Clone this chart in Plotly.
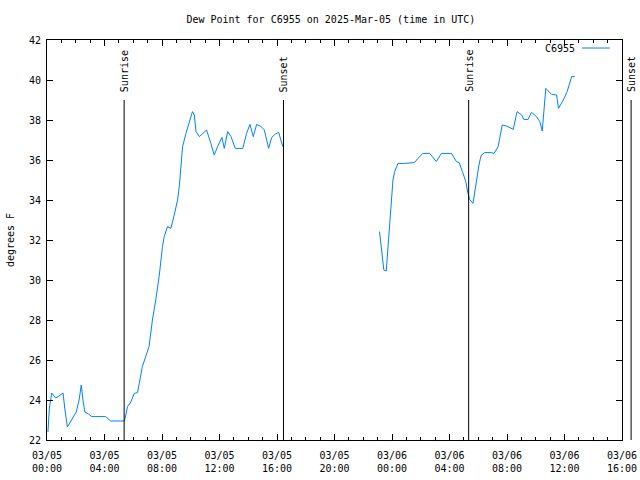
import plotly.graph_objects as go
import pandas as pd

times = [
    "2025-03-05 00:04", "2025-03-05 00:10", "2025-03-05 00:20", "2025-03-05 00:25", "2025-03-05 00:36",
    "2025-03-05 00:50", "2025-03-05 01:07", "2025-03-05 01:15", "2025-03-05 01:25", "2025-03-05 01:40",
    "2025-03-05 02:02", "2025-03-05 02:14", "2025-03-05 02:23", "2025-03-05 02:31", "2025-03-05 02:38",
    "2025-03-05 02:53", "2025-03-05 03:07", "2025-03-05 04:05", "2025-03-05 04:26", "2025-03-05 05:22",
    "2025-03-05 05:26", "2025-03-05 05:36", "2025-03-05 05:50", "2025-03-05 06:04", "2025-03-05 06:18",
    "2025-03-05 06:25", "2025-03-05 06:38", "2025-03-05 07:06", "2025-03-05 07:20", "2025-03-05 07:34",
    "2025-03-05 07:48", "2025-03-05 08:02", "2025-03-05 08:09", "2025-03-05 08:23", "2025-03-05 08:37",
    "2025-03-05 08:51", "2025-03-05 09:05", "2025-03-05 09:12", "2025-03-05 09:19", "2025-03-05 09:26",
    "2025-03-05 09:40", "2025-03-05 09:54", "2025-03-05 10:07", "2025-03-05 10:15", "2025-03-05 10:22",
    "2025-03-05 10:36", "2025-03-05 10:49", "2025-03-05 11:06", "2025-03-05 11:24", "2025-03-05 11:38",
    "2025-03-05 11:52", "2025-03-05 12:10", "2025-03-05 12:20", "2025-03-05 12:34", "2025-03-05 12:48",
    "2025-03-05 13:06", "2025-03-05 13:37", "2025-03-05 13:53", "2025-03-05 14:07", "2025-03-05 14:21",
    "2025-03-05 14:35", "2025-03-05 14:54", "2025-03-05 15:07", "2025-03-05 15:25", "2025-03-05 15:38",
    "2025-03-05 15:53", "2025-03-05 16:07", "2025-03-05 16:17", "2025-03-05 16:24",
    "2025-03-05 20:00",
    "2025-03-05 23:08", "2025-03-05 23:19", "2025-03-05 23:26", "2025-03-05 23:36", "2025-03-05 23:47",
    "2025-03-05 23:57", "2025-03-06 00:04", "2025-03-06 00:11", "2025-03-06 00:25", "2025-03-06 00:53",
    "2025-03-06 01:34", "2025-03-06 01:48", "2025-03-06 02:09", "2025-03-06 02:37", "2025-03-06 03:05",
    "2025-03-06 03:26", "2025-03-06 04:08", "2025-03-06 04:29", "2025-03-06 04:40", "2025-03-06 04:54",
    "2025-03-06 05:08", "2025-03-06 05:17", "2025-03-06 05:24", "2025-03-06 05:38", "2025-03-06 05:50",
    "2025-03-06 05:59", "2025-03-06 06:03", "2025-03-06 06:09", "2025-03-06 06:13", "2025-03-06 06:27",
    "2025-03-06 06:55", "2025-03-06 07:06", "2025-03-06 07:23", "2025-03-06 07:40", "2025-03-06 07:58",
    "2025-03-06 08:26", "2025-03-06 08:42", "2025-03-06 09:01", "2025-03-06 09:10", "2025-03-06 09:28",
    "2025-03-06 09:42", "2025-03-06 10:03", "2025-03-06 10:17", "2025-03-06 10:27", "2025-03-06 10:34",
    "2025-03-06 10:42", "2025-03-06 11:06", "2025-03-06 11:27", "2025-03-06 11:35", "2025-03-06 11:55",
    "2025-03-06 12:11", "2025-03-06 12:30", "2025-03-06 12:43",
]
dewpoint = [
    22.4, 23.6, 24.35, 24.25, 24.1,
    24.2, 24.35, 23.5, 22.65, 22.95,
    23.4, 24.0, 24.75, 23.9, 23.4,
    23.3, 23.17, 23.17, 22.95, 22.95,
    23.08, 23.67, 23.9, 24.33, 24.37,
    24.83, 25.67, 26.67, 28.0, 29.0,
    30.17, 31.67, 32.17, 32.67, 32.58,
    33.25, 34.0, 34.67, 35.67, 36.67,
    37.33, 37.92, 38.42, 38.25, 37.42,
    37.17, 37.33, 37.5, 36.83, 36.25,
    36.67, 37.13, 36.58, 37.42, 37.17,
    36.58, 36.58, 37.33, 37.78, 37.17,
    37.78, 37.67, 37.5, 36.58, 37.13,
    37.3, 37.38, 37.0, 36.67,
    None,
    32.42, 31.25, 30.5, 30.45, 32.17,
    33.67, 35.0, 35.42, 35.83, 35.83,
    35.87, 36.08, 36.33, 36.33, 35.92,
    36.33, 36.33, 35.92, 35.87, 35.42,
    34.92, 34.33, 34.03, 33.83, 34.83,
    35.33, 35.75, 36.08, 36.25, 36.37,
    36.37, 36.33, 36.67, 37.75, 37.7,
    37.53, 38.42, 38.25, 38.03, 38.03,
    38.38, 38.17, 37.92, 37.45, 38.58,
    39.58, 39.28, 39.25, 38.58, 39.0,
    39.42, 40.17, 40.17,
]

sun_events = ["Sunrise", "Sunset", "Sunrise", "Sunset"]
sun_times = ["2025-03-05 05:22", "2025-03-05 16:27", "2025-03-06 05:20", "2025-03-06 16:38"]

x_start = "2025-03-05 00:00"
x_end = "2025-03-06 16:00"
y_min, y_max = 22, 42
sun_line_top = 39

tick_vals = pd.date_range(x_start, x_end, freq="4h")
tick_text = [t.strftime("%m/%d<br>%H:%M") for t in tick_vals]

FONT = "DejaVu Sans Mono, Liberation Mono, monospace"
FS = 10
color = "#0080ff"

fig = go.Figure()
fig.add_trace(go.Scatter(
    x=pd.to_datetime(times), y=dewpoint, mode="lines",
    line=dict(color=color, width=1), connectgaps=False, showlegend=False,
    name="C6955",
))

t0 = pd.Timestamp(x_start)
t1 = pd.Timestamp(x_end)
span = (t1 - t0).total_seconds()
ytop_frac = (sun_line_top - y_min) / (y_max - y_min)
for name, ts in zip(sun_events, sun_times):
    frac = (pd.Timestamp(ts) - t0).total_seconds() / span
    fig.add_shape(type="line", xref="x domain", yref="y domain",
                  x0=frac, x1=frac, y0=0, y1=ytop_frac,
                  line=dict(color="black", width=1))
    fig.add_annotation(xref="x domain", yref="y domain", x=frac, y=ytop_frac,
                       text=name, textangle=-90, showarrow=False,
                       xanchor="center", yanchor="bottom", yshift=6,
                       font=dict(family=FONT, size=FS, color="black"))

# legend (text left of line sample, like the original)
fig.add_annotation(xref="paper", yref="paper", x=0.922, y=0.98, text="C6955",
                   showarrow=False, xanchor="right", yanchor="middle",
                   font=dict(family=FONT, size=FS, color="black"))
fig.add_shape(type="line", xref="paper", yref="paper", x0=0.93, x1=0.979,
              y0=0.98, y1=0.98, line=dict(color=color, width=1))

axis_common = dict(showline=True, linecolor="black", linewidth=1, mirror="ticks",
                   ticks="inside", ticklen=6, tickcolor="black", showgrid=False,
                   zeroline=False, automargin=False,
                   tickfont=dict(family=FONT, size=FS, color="black"))

fig.update_xaxes(range=[t0, t1], tickmode="array", tickvals=tick_vals, ticktext=tick_text,
                 ticklabelstandoff=6,
                 minor=dict(ticks="inside", ticklen=3, dtick=3600000, tickcolor="black",
                            showgrid=False),
                 **axis_common)
fig.update_yaxes(range=[y_min, y_max], dtick=2, ticklabelstandoff=3,
                 title=dict(text="degrees F", font=dict(family=FONT, size=FS, color="black"),
                            standoff=12),
                 **axis_common)

fig.update_layout(
    width=640, height=480,
    margin=dict(l=47, r=18, t=40, b=40),
    paper_bgcolor="white", plot_bgcolor="white",
    title=dict(text="Dew Point for C6955 on 2025-Mar-05 (time in UTC)", x=0.517, y=0.96,
               xanchor="center", yanchor="middle",
               font=dict(family=FONT, size=FS, color="black")),
    font=dict(family=FONT, size=FS, color="black"),
)

fig.write_html("out.html")
